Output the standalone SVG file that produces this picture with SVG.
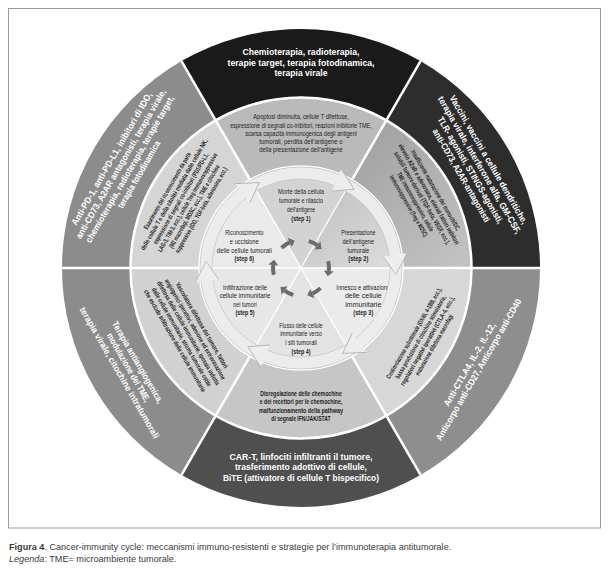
<svg xmlns="http://www.w3.org/2000/svg" width="609" height="573" viewBox="0 0 609 573">
<defs>
<style>
.ot{font-family:"Liberation Sans",Arial,sans-serif;font-weight:bold;font-size:9px;fill:#fff;text-anchor:middle}
.it{font-family:"Liberation Sans",Arial,sans-serif;font-size:7px;fill:#1e1e1e;text-anchor:middle}
.ib{font-family:"Liberation Sans",Arial,sans-serif;font-size:6.6px;font-weight:bold;fill:#1e1e1e;text-anchor:middle}
.sb{font-weight:bold}
.dv{stroke:#fff;stroke-width:2.5;fill:none}
.dvi{stroke:#fff;stroke-width:1.3;fill:none}
.cap{font-family:"Liberation Sans",Arial,sans-serif;font-size:9.1px;fill:#3a3a3a}
.hd{fill:#ededed;stroke:#a9a9a9;stroke-width:0.7}
.ds{fill:none;stroke:#6c6c6c;stroke-width:4}
.dh{fill:#6c6c6c}
</style>
<linearGradient id="gUR" x1="0" y1="0" x2="1" y2="1"><stop offset="0" stop-color="#989898"/><stop offset="1" stop-color="#c4c4c4"/></linearGradient>
<linearGradient id="gS2" x1="0" y1="0" x2="1" y2="1"><stop offset="0" stop-color="#bdbdbd"/><stop offset="1" stop-color="#dedede"/></linearGradient>
<path id="head" d="M406.96,253.11 L395.77,274.63 L383.19,256.45"/>
<path id="dash" d="M328.17,261.23 A28,28 0 0 1 328.85,270.93"/>
<path id="dhead" d="M333.82,271.45 L327.78,276.19 L323.87,270.40 Z"/>
</defs>
<rect x="0" y="0" width="609" height="573" fill="#fff"/>
<rect x="8.5" y="8.5" width="592" height="519.5" fill="none" stroke="#9a9a9a" stroke-width="1"/>

<!-- outer ring: therapies -->
<g id="therapy-top">
<path d="M301,268 L181.5,61.02 A239,239 0 0 1 420.5,61.02 Z" fill="#1a1a1a"/>
<text class="ot" x="301" y="55.3" textLength="117" lengthAdjust="spacingAndGlyphs">Chemioterapia, radioterapia,</text>
<text class="ot" x="301" y="65.6" textLength="147" lengthAdjust="spacingAndGlyphs">terapie target, terapia fotodinamica,</text>
<text class="ot" x="301" y="75.9" textLength="53" lengthAdjust="spacingAndGlyphs">terapia virale</text>
</g>
<g id="therapy-upper-right">
<path d="M301,268 L420.5,61.02 A239,239 0 0 1 540,268 Z" fill="#2d2d2d"/>
<g transform="translate(475.07,167.5) rotate(60)">
<text class="ot" x="0" y="-12.55" textLength="147" lengthAdjust="spacingAndGlyphs">Vaccini, vaccini a cellule dendritiche,</text>
<text class="ot" x="0" y="-2.05" textLength="157" lengthAdjust="spacingAndGlyphs">terapia virale, interferone alfa, GM-CSF,</text>
<text class="ot" x="0" y="8.45" textLength="122" lengthAdjust="spacingAndGlyphs">TLR- agonisti, STINGS-agonisti,</text>
<text class="ot" x="0" y="18.95" textLength="106" lengthAdjust="spacingAndGlyphs">anti-CD73, A2AR-antagonisti</text>
</g>
</g>
<g id="therapy-lower-right">
<path d="M301,268 L540,268 A239,239 0 0 1 420.5,474.98 Z" fill="#8e8e8e"/>
<g transform="translate(473.97,367) rotate(-60)">
<text class="ot" x="0" y="-2.05" textLength="95" lengthAdjust="spacingAndGlyphs">Anti-CTLA4, IL-2, IL-12,</text>
<text class="ot" x="0" y="8.45" textLength="162" lengthAdjust="spacingAndGlyphs">Anticorpo anti-CD27, Anticorpo anti-CD40</text>
</g>
</g>
<g id="therapy-bottom">
<path d="M301,268 L420.5,474.98 A239,239 0 0 1 181.5,474.98 Z" fill="#4f4f4f"/>
<text class="ot" x="301" y="459.8" textLength="143" lengthAdjust="spacingAndGlyphs">CAR-T, linfociti infiltranti il tumore,</text>
<text class="ot" x="301" y="470.2" textLength="132" lengthAdjust="spacingAndGlyphs">trasferimento adottivo di cellule,</text>
<text class="ot" x="301" y="480.6" textLength="156" lengthAdjust="spacingAndGlyphs">BiTE (attivatore di cellule T bispecifico)</text>
</g>
<g id="therapy-lower-left">
<path d="M301,268 L181.5,474.98 A239,239 0 0 1 62,268 Z" fill="#8c8c8c"/>
<g transform="translate(128.66,367.5) rotate(60)">
<text class="ot" x="0" y="-7.3" textLength="93" lengthAdjust="spacingAndGlyphs">Terapia antiangiogenica,</text>
<text class="ot" x="0" y="3.2" textLength="78" lengthAdjust="spacingAndGlyphs">modulazione del TME,</text>
<text class="ot" x="0" y="13.7" textLength="150" lengthAdjust="spacingAndGlyphs">terapia virale, citochine intratumorali</text>
</g>
</g>
<g id="therapy-upper-left">
<path d="M301,268 L62,268 A239,239 0 0 1 181.5,61.02 Z" fill="#8c8c8c"/>
<g transform="translate(125.2,166.5) rotate(-60)">
<text class="ot" x="0" y="-12.55" textLength="152" lengthAdjust="spacingAndGlyphs">Anti-PD-1, anti-PD-L1, inibitori di IDO,</text>
<text class="ot" x="0" y="-2.05" textLength="171" lengthAdjust="spacingAndGlyphs">anti-CD73, A2AR antagonisti, terapia virale,</text>
<text class="ot" x="0" y="8.45" textLength="168" lengthAdjust="spacingAndGlyphs">chemioterapia, radioterapia, terapie target,</text>
<text class="ot" x="0" y="18.95" textLength="76" lengthAdjust="spacingAndGlyphs">terapia fotodinamica</text>
</g>
</g>

<!-- inner ring: resistance mechanisms -->
<g id="resistance-top">
<path d="M301,268 L216,120.78 A170,170 0 0 1 386,120.78 Z" fill="#bababa"/>
<text class="it" x="301" y="119.3" textLength="95.7" lengthAdjust="spacingAndGlyphs">Apoptosi diminuita, cellule T difettose,</text>
<text class="it" x="301" y="127.5" textLength="141.7" lengthAdjust="spacingAndGlyphs">espressione di segnali co-inibitori, reazioni inibitorie TME,</text>
<text class="it" x="301" y="135.7" textLength="111.7" lengthAdjust="spacingAndGlyphs">scarsa capacità immunogenica degli antigeni</text>
<text class="it" x="301" y="143.9" textLength="83.3" lengthAdjust="spacingAndGlyphs">tumorali, perdita dell’antigene o</text>
<text class="it" x="301" y="152.1" textLength="83.3" lengthAdjust="spacingAndGlyphs">della presentazione dell’antigene</text>
</g>
<g id="resistance-upper-right">
<path d="M301,268 L386,120.78 A170,170 0 0 1 471,268 Z" fill="url(#gUR)"/>
<g transform="translate(422.24,198) rotate(60)">
<text class="ib" x="0" y="-13.3" textLength="92" lengthAdjust="spacingAndGlyphs">Insufficiente maturazione dei monociti/DC,</text>
<text class="ib" x="0" y="-5.5" textLength="115" lengthAdjust="spacingAndGlyphs">elevato A2aR e adenosina, elevati fattori inibitori</text>
<text class="ib" x="0" y="2.3" textLength="106" lengthAdjust="spacingAndGlyphs">solubili tumore-derivati (TGF-beta, VEGF, ecc.),</text>
<text class="ib" x="0" y="10.1" textLength="67" lengthAdjust="spacingAndGlyphs">TME immunosoppressivo, cellule</text>
<text class="ib" x="0" y="17.9" textLength="70" lengthAdjust="spacingAndGlyphs">immunosoppressive (Treg e MDSC)</text>
</g>
</g>
<g id="resistance-lower-right">
<path d="M301,268 L471,268 A170,170 0 0 1 386,415.22 Z" fill="#d7d7d7"/>
<g transform="translate(423.97,339) rotate(-60)">
<text class="ib" x="0" y="-9.4" textLength="104" lengthAdjust="spacingAndGlyphs">Costimolazione subottimale (OX40, 4-1BB, ecc.),</text>
<text class="ib" x="0" y="-1.6" textLength="95" lengthAdjust="spacingAndGlyphs">bassa produzione di citochine stimolatorie,</text>
<text class="ib" x="0" y="6.2" textLength="102" lengthAdjust="spacingAndGlyphs">regolatori negativi iperattivi (CTLA-4, ecc.),</text>
<text class="ib" x="0" y="14" textLength="69" lengthAdjust="spacingAndGlyphs">maturazione difettosa macrofagi</text>
</g>
</g>
<g id="resistance-bottom">
<path d="M301,268 L386,415.22 A170,170 0 0 1 216,415.22 Z" fill="#c6c6c6"/>
<text class="it sb" x="301" y="395.8" textLength="81.7" lengthAdjust="spacingAndGlyphs">Disregolazione delle chemochine</text>
<text class="it sb" x="301" y="404.3" textLength="82.7" lengthAdjust="spacingAndGlyphs">e dei recettori per le chemochine,</text>
<text class="it sb" x="301" y="412.8" textLength="84" lengthAdjust="spacingAndGlyphs">malfunzionamento della pathway</text>
<text class="it sb" x="301" y="421.3" textLength="59.3" lengthAdjust="spacingAndGlyphs">di segnale IFN/JAK/STAT</text>
</g>
<g id="resistance-lower-left">
<path d="M301,268 L216,415.22 A170,170 0 0 1 131,268 Z" fill="#d1d1d1"/>
<g transform="translate(188.42,333) rotate(60)">
<text class="ib" x="0" y="-13.3" textLength="98" lengthAdjust="spacingAndGlyphs">Vascolatura difettosa del tumore, fattori</text>
<text class="ib" x="0" y="-5.5" textLength="115" lengthAdjust="spacingAndGlyphs">angiogenici iperattivi, adesione ed extravasazione</text>
<text class="ib" x="0" y="2.3" textLength="119" lengthAdjust="spacingAndGlyphs">difettosa delle cellule immunitarie, ipossia indotta</text>
<text class="ib" x="0" y="10.1" textLength="113" lengthAdjust="spacingAndGlyphs">dalle cellule immunitarie, stroma tumorale ostile</text>
<text class="ib" x="0" y="17.9" textLength="117" lengthAdjust="spacingAndGlyphs">che esclude infiltrazione delle cellule immunitarie</text>
</g>
</g>
<g id="resistance-upper-left">
<path d="M301,268 L131,268 A170,170 0 0 1 216,120.78 Z" fill="#d5d5d5"/>
<g transform="translate(184.09,200.5) rotate(-60)">
<text class="ib" x="0" y="-17.2" textLength="88" lengthAdjust="spacingAndGlyphs">Esaurimento del riconoscimento da parte</text>
<text class="ib" x="0" y="-9.4" textLength="127" lengthAdjust="spacingAndGlyphs">delle cellule T e della citolisi mediata dalle cellule NK,</text>
<text class="ib" x="0" y="-1.6" textLength="104" lengthAdjust="spacingAndGlyphs">espressione di segnali co-inibitori (PD1/PD-L1,</text>
<text class="ib" x="0" y="6.2" textLength="113" lengthAdjust="spacingAndGlyphs">LAG-3, TIM-3, ecc.), cellule Treg immunosoppressive</text>
<text class="ib" x="0" y="14" textLength="95" lengthAdjust="spacingAndGlyphs">(M2 macrofagi, MDSC, ecc.), TME e citochine</text>
<text class="ib" x="0" y="21.8" textLength="98" lengthAdjust="spacingAndGlyphs">suppressive (IDO, TGF-beta, adenosina, ecc.)</text>
</g>
</g>

<!-- centre disc: steps -->
<g id="step-1">
<path d="M301,268 L250.5,180.53 A101,101 0 0 1 351.5,180.53 Z" fill="#d3d3d3"/>
<text class="it" x="301" y="194.3" textLength="46" lengthAdjust="spacingAndGlyphs">Morte della cellula</text>
<text class="it" x="301" y="203" textLength="44" lengthAdjust="spacingAndGlyphs">tumorale e rilascio</text>
<text class="it" x="301" y="211.7" textLength="28" lengthAdjust="spacingAndGlyphs">dell’antigene</text>
<text class="it sb" x="301" y="220.5" textLength="19.3" lengthAdjust="spacingAndGlyphs">(step 1)</text>
</g>
<g id="step-2">
<path d="M301,268 L351.5,180.53 A101,101 0 0 1 402,268 Z" fill="url(#gS2)"/>
<text class="it" x="358.3" y="235.3" textLength="34.3" lengthAdjust="spacingAndGlyphs">Presentazione</text>
<text class="it" x="358.3" y="244" textLength="31.7" lengthAdjust="spacingAndGlyphs">dell’antigene</text>
<text class="it" x="358.3" y="252.7" textLength="21.7" lengthAdjust="spacingAndGlyphs">tumorale</text>
<text class="it sb" x="358.3" y="261.4" textLength="20" lengthAdjust="spacingAndGlyphs">(step 2)</text>
</g>
<g id="step-3">
<path d="M301,268 L402,268 A101,101 0 0 1 351.5,355.47 Z" fill="#ebebeb"/>
<text class="it" x="363.3" y="289.9" textLength="54" lengthAdjust="spacingAndGlyphs">Innesco e attivazione</text>
<text class="it" x="363.3" y="298.3" textLength="36.7" lengthAdjust="spacingAndGlyphs">delle cellule</text>
<text class="it" x="363.3" y="306.7" textLength="36" lengthAdjust="spacingAndGlyphs">immunitarie</text>
<text class="it sb" x="363.3" y="315.1" textLength="20" lengthAdjust="spacingAndGlyphs">(step 3)</text>
</g>
<g id="step-4">
<path d="M301,268 L351.5,355.47 A101,101 0 0 1 250.5,355.47 Z" fill="#e3e3e3"/>
<text class="it" x="301" y="327.6" textLength="43.3" lengthAdjust="spacingAndGlyphs">Flusso delle cellule</text>
<text class="it" x="301" y="336.4" textLength="41.7" lengthAdjust="spacingAndGlyphs">immunitarie verso</text>
<text class="it" x="301" y="345.2" textLength="31.7" lengthAdjust="spacingAndGlyphs">i siti tumorali</text>
<text class="it sb" x="301" y="354" textLength="19" lengthAdjust="spacingAndGlyphs">(step 4)</text>
</g>
<g id="step-5">
<path d="M301,268 L250.5,355.47 A101,101 0 0 1 200,268 Z" fill="#e7e7e7"/>
<text class="it" x="245" y="289.9" textLength="44" lengthAdjust="spacingAndGlyphs">Infiltrazione delle</text>
<text class="it" x="245" y="298.3" textLength="50.7" lengthAdjust="spacingAndGlyphs">cellule immunitarie</text>
<text class="it" x="245" y="306.7" textLength="23.3" lengthAdjust="spacingAndGlyphs">nei tumori</text>
<text class="it sb" x="245" y="315.1" textLength="19" lengthAdjust="spacingAndGlyphs">(step 5)</text>
</g>
<g id="step-6">
<path d="M301,268 L200,268 A101,101 0 0 1 250.5,180.53 Z" fill="#eaeaea"/>
<text class="it" x="244.3" y="235.3" textLength="38.3" lengthAdjust="spacingAndGlyphs">Riconoscimento</text>
<text class="it" x="244.3" y="244" textLength="29" lengthAdjust="spacingAndGlyphs">e uccisione</text>
<text class="it" x="244.3" y="252.7" textLength="55" lengthAdjust="spacingAndGlyphs">delle cellule tumorali</text>
<text class="it sb" x="244.3" y="261.4" textLength="19.7" lengthAdjust="spacingAndGlyphs">(step 6)</text>
</g>

<!-- separators -->
<g id="separators">
<circle cx="301" cy="268" r="170.5" class="dv"/>
<line class="dv" x1="351.5" y1="180.53" x2="420.5" y2="61.02"/>
<line class="dv" x1="402" y1="268" x2="540" y2="268"/>
<line class="dv" x1="351.5" y1="355.47" x2="420.5" y2="474.98"/>
<line class="dv" x1="250.5" y1="355.47" x2="181.5" y2="474.98"/>
<line class="dv" x1="200" y1="268" x2="62" y2="268"/>
<line class="dv" x1="250.5" y1="180.53" x2="181.5" y2="61.02"/>
<line class="dvi" x1="351.5" y1="180.53" x2="250.5" y2="355.47"/>
<line class="dvi" x1="402" y1="268" x2="200" y2="268"/>
<line class="dvi" x1="351.5" y1="355.47" x2="250.5" y2="180.53"/>
<circle cx="301" cy="268" r="102" fill="none" stroke="#fff" stroke-width="1.5"/>
</g>

<!-- connectors: cycle arrows -->
<g id="connectors">
<circle cx="301" cy="268" r="95" fill="none" stroke="#ececec" stroke-width="12"/>
<circle cx="301" cy="268" r="101" fill="none" stroke="#bdbdbd" stroke-width="0.6"/>
<circle cx="301" cy="268" r="89" fill="none" stroke="#bdbdbd" stroke-width="0.6"/>
<use href="#head" class="hd"/>
<use href="#head" class="hd" transform="rotate(60 301 268)"/>
<use href="#head" class="hd" transform="rotate(120 301 268)"/>
<use href="#head" class="hd" transform="rotate(180 301 268)"/>
<use href="#head" class="hd" transform="rotate(240 301 268)"/>
<use href="#head" class="hd" transform="rotate(300 301 268)"/>
<use href="#dash" class="ds"/>
<use href="#dash" class="ds" transform="rotate(60 301 268)"/>
<use href="#dash" class="ds" transform="rotate(120 301 268)"/>
<use href="#dash" class="ds" transform="rotate(180 301 268)"/>
<use href="#dash" class="ds" transform="rotate(240 301 268)"/>
<use href="#dash" class="ds" transform="rotate(300 301 268)"/>
<use href="#dhead" class="dh"/>
<use href="#dhead" class="dh" transform="rotate(60 301 268)"/>
<use href="#dhead" class="dh" transform="rotate(120 301 268)"/>
<use href="#dhead" class="dh" transform="rotate(180 301 268)"/>
<use href="#dhead" class="dh" transform="rotate(240 301 268)"/>
<use href="#dhead" class="dh" transform="rotate(300 301 268)"/>
</g>

<g id="caption">
<text class="cap" x="9" y="549.5"><tspan font-weight="bold">Figura 4</tspan>. Cancer-immunity cycle: meccanismi immuno-resistenti e strategie per l’immunoterapia antitumorale.</text>
<text class="cap" x="9" y="561.5"><tspan font-style="italic">Legenda</tspan>: TME= microambiente tumorale.</text>
</g>
</svg>
